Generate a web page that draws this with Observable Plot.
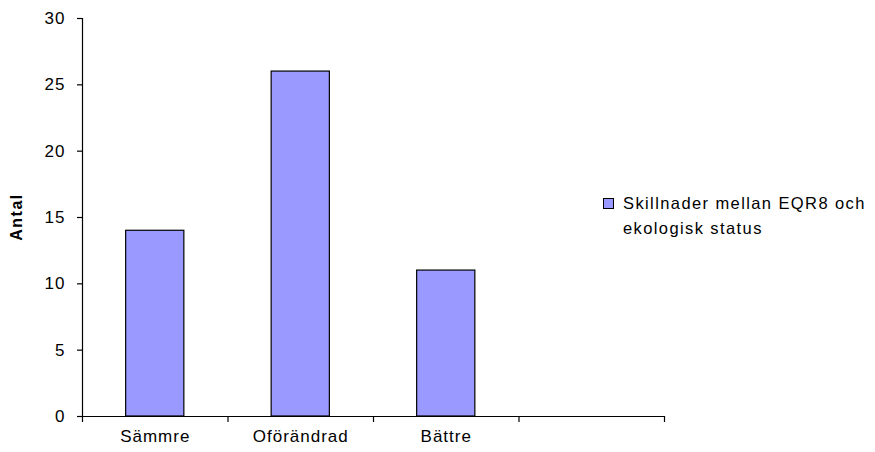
<!DOCTYPE html>
<html>
<head>
<meta charset="utf-8">
<script src="https://cdn.jsdelivr.net/npm/d3@7"></script>
<script src="https://cdn.jsdelivr.net/npm/@observablehq/plot@0.6"></script>
<style>
  html, body { margin: 0; padding: 0; background: #fff; }
  #wrap { position: relative; width: 875px; height: 452px; font-family: "Liberation Sans", Arial, sans-serif; }
  #legend { position: absolute; left: 603px; top: 191px; font-size: 16.5px; line-height: 25px; letter-spacing: 1.4px; color: #000; }
  #legend .sw { position: absolute; left: 0; top: 7px; width: 9px; height: 9px; background: #9999FF; border: 1px solid #000; }
  #legend .tx { margin-left: 20px; white-space: nowrap; }
  #ylabel { position: absolute; left: 17px; top: 217px; transform: translate(-50%, -50%) rotate(-90deg); font-size: 16px; font-weight: bold; letter-spacing: 1.5px; white-space: nowrap; }
</style>
</head>
<body>
<div id="wrap"><div id="legend"><div class="sw"></div><div class="tx" id="legtext"></div></div><div id="ylabel"></div></div>
<script>
const categories = ["Sämmre", "Oförändrad", "Bättre", ""];
const values = [14, 26, 11, null];
const yTicks = [0, 5, 10, 15, 20, 25, 30];
const seriesLines = ["Skillnader mellan EQR8 och", "ekologisk status"];
const yLabel = "Antal";

document.getElementById("legtext").innerHTML = seriesLines.join("<br>");
document.getElementById("ylabel").textContent = yLabel;

const data = categories.map((c, i) => ({i, category: c, value: values[i]})).filter(d => d.value != null);
const boundaries = d3.range(categories.length + 1);
const centers = categories.map((c, i) => i + 0.5);

const plot = Plot.plot({
  width: 875,
  height: 452,
  marginLeft: 82,
  marginRight: 211,
  marginTop: 18,
  marginBottom: 36,
  style: {fontFamily: "'Liberation Sans', Arial, sans-serif", fontSize: "17px", letterSpacing: "1px", color: "#000", background: "transparent"},
  x: {domain: [0, categories.length], axis: null},
  y: {domain: [0, 30], axis: null},
  marks: [
    Plot.rectY(data, {x1: d => d.i + 0.3, x2: d => d.i + 0.7, y: "value", fill: "#9999FF", stroke: "#000", strokeWidth: 1.2}),
    Plot.ruleX([0], {stroke: "#000", strokeWidth: 1.2}),
    Plot.ruleY([0], {stroke: "#000", strokeWidth: 1.2}),
    Plot.axisY({ticks: yTicks, tickSize: 5, tickPadding: 12, label: null, stroke: "#000", strokeWidth: 1.2}),
    Plot.axisX({ticks: boundaries, tickSize: 6, tickFormat: () => "", label: null, stroke: "#000", strokeWidth: 1.2}),
    Plot.axisX({ticks: centers, tickSize: 0, tickPadding: 13, tickFormat: v => categories[Math.floor(v)], label: null})
  ]
});
document.getElementById("wrap").prepend(plot);
plot.style.position = "absolute";
plot.style.left = "0";
plot.style.top = "0";
</script>
</body>
</html>
